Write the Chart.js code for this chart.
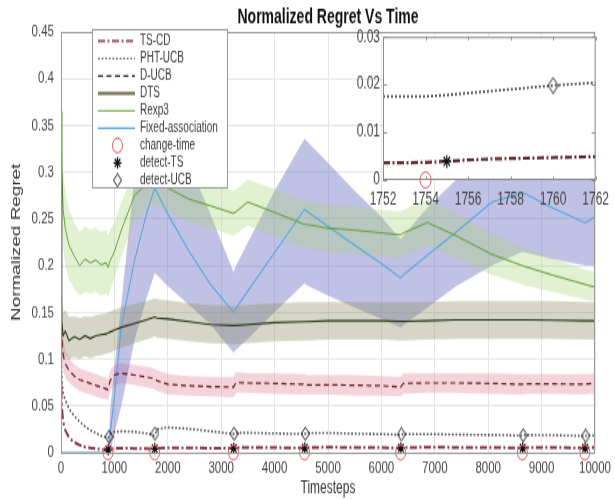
<!DOCTYPE html>
<html lang="en">
<head>
  <meta charset="UTF-8">
  <title>Normalized Regret Vs Time</title>
  <script src="https://cdn.jsdelivr.net/npm/chart.js"></script>
  <style>
    body { margin: 0; background: #fff; }
    #figure { position: relative; width: 615px; height: 499px; overflow: hidden; }
    #main { position: absolute; left: 0; top: 0; }
    #inset { position: absolute; left: 330px; top: 22px; }
  </style>
</head>
<body>
  <div id="figure">
    <!-- the original figure is stretched vertically, so both canvases are drawn short and scaled up -->
    <canvas id="main" width="615" height="344" style="width:615px;height:499px"></canvas>
    <canvas id="inset" width="285" height="138" style="width:285px;height:200.1px"></canvas>
  </div>
<script>
  Chart.defaults.font.family = '"Liberation Sans", Arial, Helvetica, sans-serif';
  Chart.defaults.color = '#333';

  var figureTitle = 'Normalized Regret Vs Time';

  // shared time grid of the main plot
  var timesteps = [0, 15, 40, 80, 150, 250, 350, 450, 550, 650, 750, 850, 880, 920, 1000, 1130, 1375, 1600, 1754, 1800, 2000, 2400, 2800, 3230, 3280, 3500, 4000, 4560, 4610, 5000, 5500, 6000, 6360, 6410, 6860, 7400, 8070, 8640, 8690, 9200, 9810, 9860, 10000];

  var tsCd = [0.09, 0.05, 0.033, 0.024, 0.016, 0.011, 0.008, 0.006, 0.005, 0.0042, 0.0036, 0.0031, 0.003, 0.0038, 0.0045, 0.0046, 0.0044, 0.0041, 0.0038, 0.0048, 0.0052, 0.005, 0.0048, 0.0045, 0.0052, 0.0055, 0.0053, 0.005, 0.0055, 0.0057, 0.0055, 0.0053, 0.005, 0.0055, 0.0057, 0.0056, 0.0054, 0.005, 0.0055, 0.0055, 0.005, 0.0055, 0.0055];

  var phtUcb = [0.11, 0.078, 0.064, 0.056, 0.047, 0.039, 0.033, 0.028, 0.024, 0.021, 0.018, 0.0162, 0.016, 0.02, 0.022, 0.0228, 0.0222, 0.0205, 0.018, 0.025, 0.027, 0.0255, 0.0228, 0.02, 0.0212, 0.0212, 0.0205, 0.02, 0.021, 0.021, 0.0203, 0.0198, 0.019, 0.0198, 0.0198, 0.0193, 0.0188, 0.0182, 0.0188, 0.0186, 0.0178, 0.0182, 0.0182];

  var dUcb = [0.16, 0.125, 0.105, 0.095, 0.088, 0.082, 0.078, 0.076, 0.074, 0.072, 0.07, 0.068, 0.067, 0.077, 0.083, 0.085, 0.083, 0.081, 0.079, 0.077, 0.073, 0.0715, 0.0705, 0.07, 0.075, 0.0745, 0.074, 0.073, 0.0725, 0.0725, 0.072, 0.0715, 0.07, 0.074, 0.0745, 0.0745, 0.074, 0.073, 0.0735, 0.0735, 0.073, 0.0735, 0.074];
  var dUcbLow = [0.12, 0.1, 0.088, 0.08, 0.075, 0.07, 0.066, 0.064, 0.062, 0.06, 0.058, 0.057, 0.056, 0.066, 0.072, 0.074, 0.072, 0.07, 0.068, 0.066, 0.062, 0.061, 0.06, 0.059, 0.064, 0.064, 0.063, 0.062, 0.062, 0.062, 0.061, 0.061, 0.06, 0.063, 0.064, 0.064, 0.063, 0.062, 0.063, 0.063, 0.062, 0.063, 0.063];
  var dUcbHigh = [0.2, 0.15, 0.122, 0.11, 0.101, 0.094, 0.09, 0.088, 0.086, 0.084, 0.082, 0.08, 0.079, 0.088, 0.094, 0.096, 0.094, 0.092, 0.09, 0.088, 0.084, 0.082, 0.081, 0.081, 0.086, 0.085, 0.085, 0.084, 0.083, 0.083, 0.083, 0.082, 0.081, 0.085, 0.085, 0.085, 0.085, 0.084, 0.084, 0.084, 0.084, 0.084, 0.085];

  var dts = [0.3, 0.14, 0.125, 0.13, 0.12, 0.124, 0.121, 0.125, 0.122, 0.125, 0.126, 0.127, 0.128, 0.129, 0.131, 0.134, 0.138, 0.142, 0.145, 0.144, 0.143, 0.14, 0.137, 0.136, 0.136, 0.137, 0.139, 0.14, 0.14, 0.141, 0.141, 0.141, 0.1405, 0.1405, 0.141, 0.142, 0.142, 0.142, 0.142, 0.1415, 0.141, 0.141, 0.141];
  var dtsLow = [0.2, 0.1, 0.1, 0.104, 0.1, 0.102, 0.1, 0.103, 0.101, 0.103, 0.104, 0.106, 0.106, 0.107, 0.109, 0.112, 0.117, 0.121, 0.124, 0.123, 0.122, 0.119, 0.117, 0.116, 0.116, 0.117, 0.119, 0.12, 0.12, 0.121, 0.121, 0.121, 0.12, 0.12, 0.121, 0.122, 0.122, 0.122, 0.122, 0.122, 0.121, 0.121, 0.121];
  var dtsHigh = [0.36, 0.17, 0.15, 0.153, 0.145, 0.146, 0.144, 0.146, 0.145, 0.147, 0.148, 0.149, 0.15, 0.151, 0.153, 0.156, 0.159, 0.162, 0.165, 0.164, 0.163, 0.16, 0.158, 0.157, 0.157, 0.158, 0.16, 0.161, 0.161, 0.161, 0.161, 0.161, 0.161, 0.161, 0.161, 0.162, 0.162, 0.162, 0.162, 0.162, 0.161, 0.161, 0.161];

  var rexp3 = [0.365, 0.3, 0.26, 0.24, 0.222, 0.21, 0.2, 0.207, 0.203, 0.206, 0.201, 0.203, 0.198, 0.205, 0.215, 0.238, 0.275, 0.287, 0.292, 0.29, 0.283, 0.271, 0.264, 0.256, 0.258, 0.268, 0.257, 0.244, 0.244, 0.24, 0.238, 0.235, 0.233, 0.235, 0.246, 0.232, 0.212, 0.2, 0.199, 0.19, 0.18, 0.179, 0.177];
  var rexp3Low = [0.3, 0.25, 0.22, 0.2, 0.185, 0.175, 0.168, 0.172, 0.17, 0.172, 0.168, 0.17, 0.166, 0.174, 0.186, 0.21, 0.248, 0.26, 0.265, 0.264, 0.258, 0.246, 0.24, 0.232, 0.234, 0.243, 0.232, 0.219, 0.219, 0.215, 0.213, 0.21, 0.208, 0.21, 0.221, 0.208, 0.19, 0.18, 0.179, 0.172, 0.164, 0.163, 0.162];
  var rexp3High = [0.42, 0.35, 0.3, 0.28, 0.26, 0.246, 0.236, 0.242, 0.238, 0.241, 0.236, 0.238, 0.232, 0.238, 0.246, 0.268, 0.302, 0.314, 0.318, 0.316, 0.308, 0.296, 0.288, 0.28, 0.282, 0.292, 0.282, 0.269, 0.269, 0.265, 0.263, 0.26, 0.258, 0.26, 0.271, 0.256, 0.234, 0.22, 0.219, 0.208, 0.196, 0.195, 0.193];

  var fixedAssoc = [0, 0, 0, 0, 0, 0, 0, 0, 0, 0, 0, 0, 0, 0.02, 0.06, 0.135, 0.205, 0.255, 0.283, 0.278, 0.255, 0.215, 0.18, 0.15, 0.155, 0.173, 0.214, 0.26, 0.258, 0.242, 0.222, 0.202, 0.187, 0.19, 0.211, 0.236, 0.268, 0.278, 0.277, 0.262, 0.246, 0.247, 0.252];
  var fixedLow = [0, 0, 0, 0, 0, 0, 0, 0, 0, 0, 0, 0, 0, 0, 0.02, 0.05, 0.12, 0.165, 0.192, 0.19, 0.178, 0.158, 0.137, 0.107, 0.11, 0.122, 0.15, 0.181, 0.179, 0.168, 0.155, 0.143, 0.134, 0.136, 0.155, 0.178, 0.2, 0.215, 0.214, 0.207, 0.2, 0.2, 0.2];
  var fixedHigh = [0, 0, 0, 0, 0, 0, 0, 0, 0, 0, 0, 0, 0, 0.045, 0.09, 0.16, 0.295, 0.37, 0.4, 0.395, 0.365, 0.31, 0.255, 0.193, 0.2, 0.225, 0.28, 0.336, 0.333, 0.31, 0.28, 0.252, 0.228, 0.232, 0.262, 0.292, 0.325, 0.345, 0.343, 0.33, 0.31, 0.31, 0.315];

  var changeTimes = [880, 1754, 3230, 4560, 6360, 8640, 9810];
  var changeLevels = [0, 0, 0, 0, 0, 0, 0];
  var detectTsTimes = [885, 1755, 3235, 4565, 6365, 8645, 9815];
  var detectTsLevels = [0.003, 0.0042, 0.0045, 0.005, 0.005, 0.005, 0.005];
  var detectUcbTimes = [900, 1760, 3240, 4575, 6375, 8655, 9825];
  var detectUcbLevels = [0.017, 0.0205, 0.0202, 0.0202, 0.0195, 0.0185, 0.018];

  // zoomed window
  var insetSteps = [1752, 1753, 1754, 1755, 1756, 1757, 1758, 1759, 1760, 1761, 1762];
  var insetPht = [0.0175, 0.0175, 0.0175, 0.0178, 0.0182, 0.0186, 0.019, 0.0194, 0.0198, 0.0201, 0.0204];
  var insetTsCd = [0.0036, 0.0036, 0.0037, 0.0039, 0.0042, 0.0044, 0.0045, 0.0046, 0.0047, 0.0048, 0.0049];
  var insetChangeTimes = [1754];
  var insetChangeLevels = [0];
  var insetDetectTsTimes = [1755];
  var insetDetectTsLevels = [0.0039];
  var insetDetectUcbTimes = [1760];
  var insetDetectUcbLevels = [0.0198];

  function toPoints(xs, ys) {
    return xs.map(function (x, i) { return { x: x, y: ys[i] } })
  }

  // MATLAB style diamond (a bit taller than wide)
  function makeDiamond(w, h) {
    var c = document.createElement('canvas')
    c.width = w
    c.height = h
    var g = c.getContext('2d')
    g.strokeStyle = '#111'
    g.lineWidth = 1
    g.beginPath()
    g.moveTo(w / 2, 0.5)
    g.lineTo(w - 0.5, h / 2)
    g.lineTo(w / 2, h - 0.5)
    g.lineTo(0.5, h / 2)
    g.closePath()
    g.stroke()
    return c
  }

  function band(low, high, color) {
    return [
      { data: toPoints(timesteps, low), borderColor: 'rgba(0,0,0,0)', borderWidth: 0, pointRadius: 0, fill: false, order: 5 },
      { data: toPoints(timesteps, high), borderColor: 'rgba(0,0,0,0)', borderWidth: 0, pointRadius: 0, fill: '-1', backgroundColor: color, order: 5 }
    ]
  }

  function drawMarker(ctx, d, x, y) {
    var style = d.pointStyle
    if (style instanceof HTMLCanvasElement) {
      ctx.drawImage(style, x - style.width / 2, y - style.height / 2)
      return
    }
    ctx.strokeStyle = d.pointBorderColor
    ctx.lineWidth = d.pointBorderWidth
    ctx.setLineDash([])
    ctx.beginPath()
    if (style === 'circle') {
      ctx.arc(x, y, d.pointRadius, 0, Math.PI * 2)
    } else {
      var r = d.pointRadius
      for (var k = 0; k < 4; k++) {
        var a = k * Math.PI / 4
        ctx.moveTo(x - r * Math.cos(a), y - r * Math.sin(a))
        ctx.lineTo(x + r * Math.cos(a), y + r * Math.sin(a))
      }
    }
    ctx.stroke()
  }

  var boxLegend = {
    id: 'boxLegend',
    afterDraw: function (chart) {
      var ctx = chart.ctx
      var items = chart.data.datasets.filter(function (d) { return d.label })
      ctx.save()
      ctx.fillStyle = '#fff'
      ctx.strokeStyle = '#999'
      ctx.lineWidth = 1
      ctx.fillRect(92.5, 20.5, 135, 109)
      ctx.strokeRect(92.5, 20.5, 135, 109)
      ctx.font = '10px "Liberation Sans", Arial, sans-serif'
      ctx.textBaseline = 'middle'
      items.forEach(function (d, i) {
        var y = 28.3 + i * 12
        if (d.showLine === false) {
          drawMarker(ctx, d, 117.5, y)
        } else {
          ctx.strokeStyle = d.legendColor || d.borderColor
          ctx.lineWidth = d.legendWidth || d.borderWidth
          ctx.setLineDash(d.borderDash || [])
          ctx.beginPath()
          ctx.moveTo(98, y)
          ctx.lineTo(135, y)
          ctx.stroke()
          ctx.setLineDash([])
        }
        ctx.fillStyle = '#3a3a3a'
        ctx.fillText(d.label, 140, y)
      })
      ctx.restore()
    }
  }

  var frameAndTitle = {
    id: 'frameAndTitle',
    afterDatasetsDraw: function (chart) {
      var a = chart.chartArea
      var ctx = chart.ctx
      ctx.save()
      ctx.strokeStyle = '#9a9a9a'
      ctx.lineWidth = 1
      ctx.strokeRect(a.left + 0.5, a.top + 0.5, a.right - a.left - 1, a.bottom - a.top)
      ctx.restore()
    },
    afterDraw: function (chart) {
      var a = chart.chartArea
      var ctx = chart.ctx
      ctx.save()
      ctx.font = 'bold 14px "Liberation Sans", Arial, sans-serif'
      ctx.fillStyle = '#111'
      ctx.textAlign = 'center'
      ctx.textBaseline = 'middle'
      ctx.fillText(figureTitle, (a.left + a.right) / 2, 11.7)
      ctx.restore()
    }
  }

  var insetFrame = {
    id: 'insetFrame',
    beforeDraw: function (chart) {
      var a = chart.chartArea
      chart.ctx.save()
      chart.ctx.fillStyle = '#fff'
      chart.ctx.fillRect(a.left, a.top, a.right - a.left, a.bottom - a.top)
      chart.ctx.restore()
    },
    afterDatasetsDraw: function (chart) {
      var a = chart.chartArea
      var ctx = chart.ctx
      ctx.save()
      ctx.strokeStyle = '#8a8a8a'
      ctx.lineWidth = 1
      ctx.strokeRect(a.left + 0.5, a.top + 0.5, a.right - a.left - 1, a.bottom - a.top - 1)
      ctx.beginPath()
      chart.scales.x.ticks.forEach(function (t) {
        var px = Math.round(chart.scales.x.getPixelForValue(t.value)) + 0.5
        ctx.moveTo(px, a.top); ctx.lineTo(px, a.top + 2.5)
        ctx.moveTo(px, a.bottom); ctx.lineTo(px, a.bottom - 2.5)
      })
      chart.scales.y.ticks.forEach(function (t) {
        var py = Math.round(chart.scales.y.getPixelForValue(t.value)) + 0.5
        ctx.moveTo(a.left, py); ctx.lineTo(a.left + 4, py)
        ctx.moveTo(a.right, py); ctx.lineTo(a.right - 4, py)
      })
      ctx.stroke()
      ctx.restore()
    }
  }

  var smallDiamond = makeDiamond(9, 10)
  var bigDiamond = makeDiamond(11, 12)

  var tickFont = { size: 11.5 }
  function plain(v) { return String(Math.round(v * 100) / 100) }

  var mainDatasets = []
    .concat(band(rexp3Low, rexp3High, 'rgba(165, 212, 115, 0.32)'))
    .concat(band(dtsLow, dtsHigh, 'rgba(140, 140, 100, 0.36)'))
    .concat(band(fixedLow, fixedHigh, 'rgba(100, 100, 190, 0.4)'))
    .concat(band(dUcbLow, dUcbHigh, 'rgba(225, 125, 155, 0.34)'))
    .concat([
      { label: 'TS-CD', data: toPoints(timesteps, tsCd), borderColor: '#8a3545', borderWidth: 2, borderDash: [7, 2.5, 2, 2.5], legendColor: '#a4646e', legendWidth: 2, pointRadius: 0, order: 1 },
      { label: 'PHT-UCB', data: toPoints(timesteps, phtUcb), borderColor: '#5e5e5e', borderWidth: 1.6, borderDash: [1.8, 1.8], legendColor: '#666', legendWidth: 1.3, pointRadius: 0, order: 1 },
      { label: 'D-UCB', data: toPoints(timesteps, dUcb), borderColor: '#6e1e2a', borderWidth: 1.2, borderDash: [5, 3.5], legendColor: '#3a1c1c', pointRadius: 0, order: 1 },
      { label: 'DTS', data: toPoints(timesteps, dts), borderColor: '#2c3418', borderWidth: 1.1, legendColor: '#767658', legendWidth: 2.2, pointRadius: 0, order: 1 },
      { label: 'Rexp3', data: toPoints(timesteps, rexp3), borderColor: '#62a238', borderWidth: 1, pointRadius: 0, order: 1 },
      { label: 'Fixed-association', data: toPoints(timesteps, fixedAssoc), borderColor: '#58a8de', borderWidth: 1.1, legendWidth: 1.3, pointRadius: 0, order: 1 },
      { label: 'change-time', data: toPoints(changeTimes, changeLevels), showLine: false, pointStyle: 'circle', pointRadius: 5, pointBorderWidth: 1, pointBorderColor: '#e05a5a', pointBackgroundColor: 'rgba(0,0,0,0)', clip: false, order: 0 },
      { label: 'detect-TS', data: toPoints(detectTsTimes, detectTsLevels), showLine: false, pointStyle: 'star', pointRadius: 4, pointBorderWidth: 1.2, pointBorderColor: '#111', pointBackgroundColor: 'rgba(0,0,0,0)', clip: false, order: 0 },
      { label: 'detect-UCB', data: toPoints(detectUcbTimes, detectUcbLevels), showLine: false, pointStyle: smallDiamond, pointRadius: 5, pointBorderColor: '#111', pointBackgroundColor: 'rgba(0,0,0,0)', clip: false, order: 0 }
    ])

  new Chart(document.getElementById('main'), {
    type: 'line',
    data: { datasets: mainDatasets },
    options: {
      responsive: false,
      animation: false,
      elements: { line: { tension: 0 } },
      layout: { padding: { top: 22, right: 17, left: 0, bottom: 0 } },
      plugins: { legend: { display: false }, tooltip: { enabled: false } },
      scales: {
        x: {
          type: 'linear', min: 0, max: 10000,
          ticks: { stepSize: 1000, autoSkip: false, maxRotation: 0, padding: 4, color: '#444', font: tickFont, callback: function (v) { return String(v) } },
          grid: { color: '#e6e6e6', drawTicks: false },
          border: { display: false },
          title: { display: true, text: 'Timesteps', color: '#333', font: { size: 12 }, padding: { top: 0, bottom: 0 } },
          afterFit: function (s) { s.height = 32 }
        },
        y: {
          type: 'linear', min: 0, max: 0.45,
          ticks: { stepSize: 0.05, padding: 7, color: '#444', font: tickFont, callback: plain },
          grid: { color: '#e6e6e6', drawTicks: false },
          border: { display: false },
          title: { display: true, text: 'Normalized Regret', color: '#333', font: { size: 13 }, padding: { top: 9, bottom: 0 } },
          afterFit: function (s) { s.width = 61 }
        }
      }
    },
    plugins: [frameAndTitle, boxLegend]
  })

  new Chart(document.getElementById('inset'), {
    type: 'line',
    data: {
      datasets: [
        { data: toPoints(insetSteps, insetPht), borderColor: '#555', borderWidth: 1.8, borderDash: [2, 2], pointRadius: 0, order: 1 },
        { data: toPoints(insetSteps, insetTsCd), borderColor: '#5e2630', borderWidth: 2.2, borderDash: [7, 2.5, 2, 2.5], pointRadius: 0, order: 1 },
        { data: toPoints(insetChangeTimes, insetChangeLevels), showLine: false, pointStyle: 'circle', pointRadius: 5.5, pointBorderWidth: 1, pointBorderColor: '#e05a5a', pointBackgroundColor: 'rgba(0,0,0,0)', clip: false, order: 0 },
        { data: toPoints(insetDetectTsTimes, insetDetectTsLevels), showLine: false, pointStyle: 'star', pointRadius: 4.5, pointBorderWidth: 1.2, pointBorderColor: '#111', clip: false, order: 0 },
        { data: toPoints(insetDetectUcbTimes, insetDetectUcbLevels), showLine: false, pointStyle: bigDiamond, pointRadius: 6, clip: false, order: 0 }
      ]
    },
    options: {
      responsive: false,
      animation: false,
      elements: { line: { tension: 0 } },
      layout: { padding: { top: 7, right: 18, left: 0, bottom: 0 } },
      plugins: { legend: { display: false }, tooltip: { enabled: false } },
      scales: {
        x: {
          type: 'linear', min: 1752, max: 1762,
          ticks: { stepSize: 2, autoSkip: false, maxRotation: 0, padding: 6, color: '#444', font: { size: 12 }, callback: function (v) { return String(v) } },
          grid: { display: false, drawTicks: false },
          border: { display: false },
          afterFit: function (s) { s.height = 29 }
        },
        y: {
          type: 'linear', min: 0, max: 0.03,
          ticks: { stepSize: 0.01, padding: 3, color: '#444', font: { size: 12 }, callback: plain },
          grid: { display: false, drawTicks: false },
          border: { display: false },
          afterFit: function (s) { s.width = 53 }
        }
      }
    },
    plugins: [insetFrame]
  })
</script>
</body>
</html>
